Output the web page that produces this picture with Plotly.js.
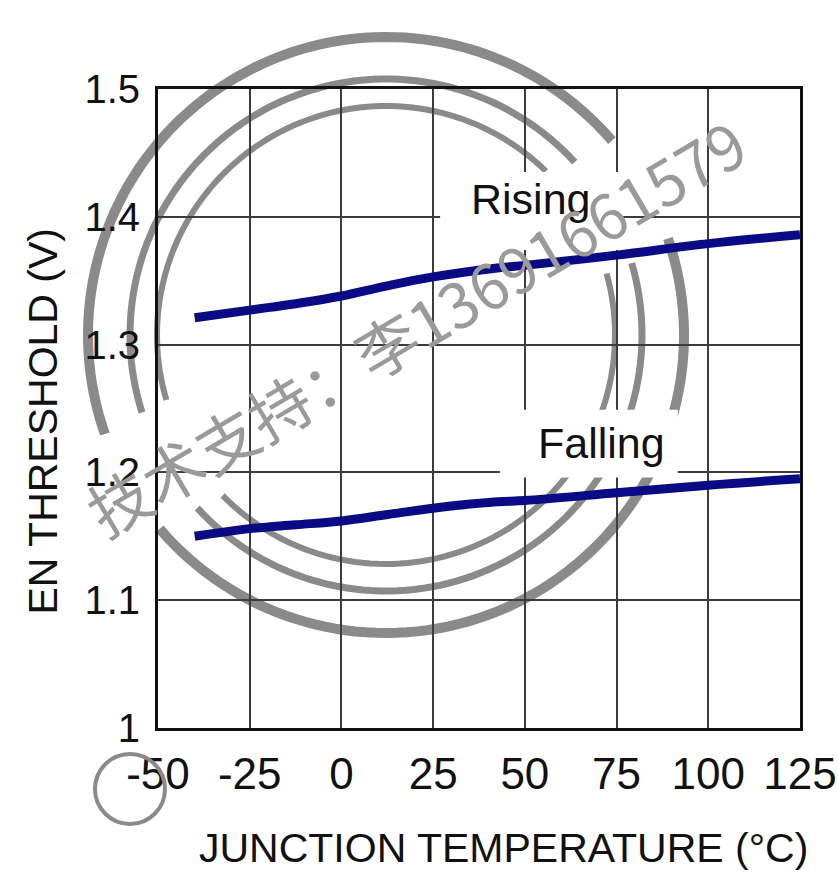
<!DOCTYPE html>
<html>
<head>
<meta charset="utf-8">
<script src="https://cdn.plot.ly/plotly-3.0.1.min.js"></script>
<style>
  html, body { margin: 0; padding: 0; background: #ffffff; }
  #chart { width: 838px; height: 876px; }
</style>
</head>
<body>
<div id="chart"></div>
<script>
// ---- data ----
const temperatureC = [-40, -25, -12.5, 0, 12.5, 25, 42.5, 50, 75, 100, 125];
const risingV      = [1.321, 1.327, 1.332, 1.338, 1.346, 1.353, 1.360, 1.362, 1.370, 1.379, 1.386];
const fallingV     = [1.150, 1.156, 1.159, 1.162, 1.167, 1.172, 1.177, 1.178, 1.184, 1.190, 1.195];

const xTickVals = [-50, -25, 0, 25, 50, 75, 100, 125];
const xTickText = ['-50', '-25', '0', '25', '50', '75', '100', '125'];
const yTickVals = [1, 1.1, 1.2, 1.3, 1.4, 1.5];
const yTickText = ['1', '1.1', '1.2', '1.3', '1.4', '1.5'];

const seriesNames = ['Rising', 'Falling'];
const xTitle = 'JUNCTION TEMPERATURE (°C)';
const yTitle = 'EN THRESHOLD (V)';
const watermarkText = '技术支持：李13691661579';

// ---- layout geometry ----
const W = 838, H = 876;
const M = { l: 158, r: 38, t: 89, b: 148 };
const PW = W - M.l - M.r, PH = H - M.t - M.b;
const FONT = '"Liberation Sans", Arial, Helvetica, sans-serif';
const LINE_COLOR = '#0a0a85';
const STAMP = '#8a8a8a';

function px2paper(X, Y) { return [(X - M.l) / PW, 1 - (Y - M.t) / PH]; }

function arcShape(cx, cy, r, a0, a1, w) {
  const n = 80; let d = '';
  for (let i = 0; i <= n; i++) {
    const a = (a0 + (a1 - a0) * i / n) * Math.PI / 180;
    const p = px2paper(cx + r * Math.cos(a), cy + r * Math.sin(a));
    d += (i === 0 ? 'M' : 'L') + p[0].toFixed(5) + ',' + p[1].toFixed(5) + ' ';
  }
  return { type: 'path', xref: 'paper', yref: 'paper', path: d, layer: 'between',
           line: { color: STAMP, width: w } };
}

const CX = 386, CY = 335;
const shapes = [
  // white boxes behind the curve labels (interrupt the grid)
  { type: 'rect', xref: 'x', yref: 'y', x0: 26.9, x1: 75.9, y0: 1.374, y1: 1.435,
    fillcolor: '#ffffff', line: { width: 0 }, layer: 'between' },
  { type: 'rect', xref: 'x', yref: 'y', x0: 43.2, x1: 91.7, y0: 1.196, y1: 1.249,
    fillcolor: '#ffffff', line: { width: 0 }, layer: 'between' },
  // stamp-like watermark arcs
  arcShape(CX, CY, 298, -40.7, -199.4, 10),
  arcShape(CX, CY, 298, 139.4, -18.9, 10),
  arcShape(CX, CY, 256, -42.5, -197.6, 7),
  arcShape(CX, CY, 256, 137.5, -16.3, 7),
  arcShape(CX, CY, 229, -45.7, -196.5, 6),
  arcShape(CX, CY, 229, 135.5, -15.6, 6)
];
(function () {
  const a = px2paper(95, 754), b = px2paper(165, 824);
  shapes.push({ type: 'circle', xref: 'paper', yref: 'paper', x0: a[0], x1: b[0], y0: b[1], y1: a[1],
                line: { color: STAMP, width: 4 }, layer: 'above' });
})();

const traces = [
  { x: temperatureC, y: risingV, name: seriesNames[0], mode: 'lines', type: 'scatter',
    line: { color: LINE_COLOR, width: 9, shape: 'spline', smoothing: 1 }, hoverinfo: 'x+y' },
  { x: temperatureC, y: fallingV, name: seriesNames[1], mode: 'lines', type: 'scatter',
    line: { color: LINE_COLOR, width: 9, shape: 'spline', smoothing: 1 }, hoverinfo: 'x+y' }
];

const wm = px2paper(415, 326);
const yt = px2paper(42, 421.5);
const xt = px2paper(503.5, 848);

const layout = {
  width: W, height: H,
  margin: M,
  paper_bgcolor: '#ffffff', plot_bgcolor: '#ffffff',
  showlegend: false,
  font: { family: FONT, color: '#111111' },
  xaxis: {
    range: [-50, 125], tickmode: 'array', tickvals: xTickVals, ticktext: xTickText,
    showgrid: true, gridcolor: '#3c3c3c', gridwidth: 2, zeroline: false,
    showline: true, linecolor: '#111111', linewidth: 3, mirror: true,
    ticks: 'outside', ticklen: 5, tickcolor: 'rgba(0,0,0,0)',
    tickfont: { family: FONT, size: 44, color: '#111111' }, fixedrange: true
  },
  yaxis: {
    range: [1, 1.5], tickmode: 'array', tickvals: yTickVals, ticktext: yTickText,
    showgrid: true, gridcolor: '#3c3c3c', gridwidth: 2, zeroline: false,
    showline: true, linecolor: '#111111', linewidth: 3, mirror: true,
    ticks: 'outside', ticklen: 7, tickcolor: 'rgba(0,0,0,0)',
    tickfont: { family: FONT, size: 40, color: '#111111' }, fixedrange: true
  },
  shapes: shapes,
  annotations: [
    { xref: 'x', yref: 'y', x: 51.8, y: 1.414, text: seriesNames[0], showarrow: false,
      font: { family: FONT, size: 43, color: '#111111' }, xanchor: 'center', yanchor: 'middle' },
    { xref: 'x', yref: 'y', x: 70.9, y: 1.223, text: seriesNames[1], showarrow: false,
      font: { family: FONT, size: 43, color: '#111111' }, xanchor: 'center', yanchor: 'middle' },
    { xref: 'paper', yref: 'paper', x: xt[0], y: xt[1], text: xTitle, showarrow: false,
      font: { family: FONT, size: 41, color: '#111111' }, xanchor: 'center', yanchor: 'middle' },
    { xref: 'paper', yref: 'paper', x: yt[0], y: yt[1], text: yTitle, showarrow: false, textangle: -90,
      font: { family: FONT, size: 41, color: '#111111' }, xanchor: 'center', yanchor: 'middle' },
    { xref: 'paper', yref: 'paper', x: wm[0], y: wm[1], text: watermarkText, showarrow: false, textangle: -30.5,
      font: { family: '"Noto Sans CJK SC", "Noto Sans", sans-serif', size: 62, color: '#9a9a9a' },
      xanchor: 'center', yanchor: 'middle' }
  ]
};

Plotly.newPlot('chart', traces, layout, { staticPlot: true, displayModeBar: false });
</script>
</body>
</html>
